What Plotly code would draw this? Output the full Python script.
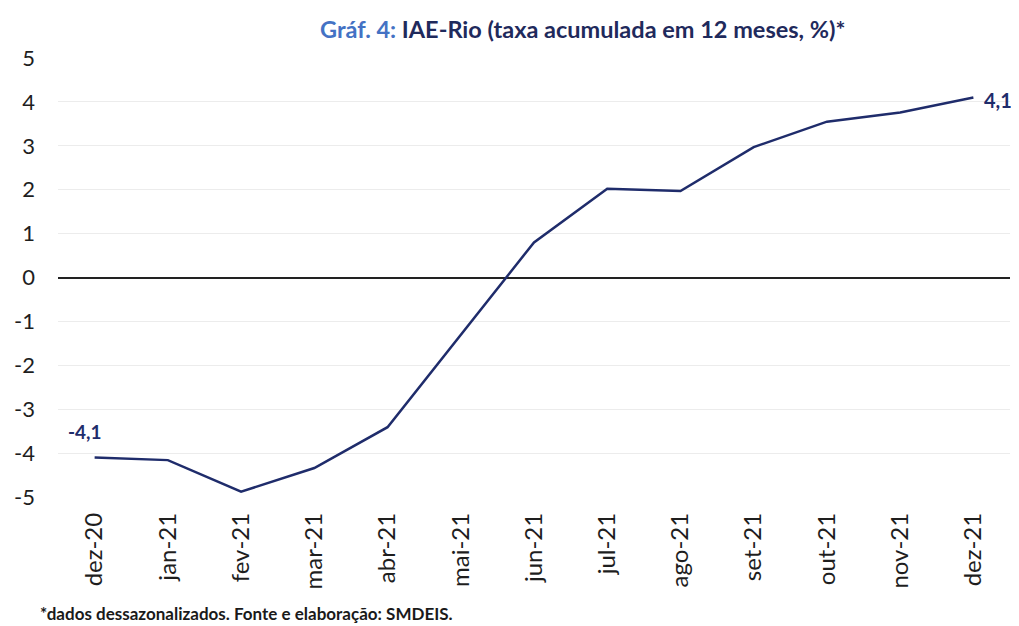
import plotly.graph_objects as go

categories = ["dez-20", "jan-21", "fev-21", "mar-21", "abr-21", "mai-21", "jun-21",
              "jul-21", "ago-21", "set-21", "out-21", "nov-21", "dez-21"]
values = [-4.1, -4.16, -4.88, -4.34, -3.41, -1.3, 0.8, 2.02, 1.97, 2.97, 3.55, 3.76, 4.1]
y_ticks = [-5, -4, -3, -2, -1, 0, 1, 2, 3, 4, 5]
y_labels = ["-5", "-4", "-3", "-2", "-1", "0", "1", "2", "3", "4", "5"]

navy = "#1F2C6B"
font = "Lato, 'Open Sans', sans-serif"

fig = go.Figure()
fig.add_trace(go.Scatter(x=categories, y=values, mode="lines",
                         line=dict(color=navy, width=2.5), showlegend=False,
                         hoverinfo="x+y"))

fig.add_annotation(x=categories[0], y=values[0], text="<b>-4,1</b>", showarrow=False,
                   xanchor="center", yanchor="bottom", yshift=12, xshift=-10,
                   font=dict(family=font, size=19, color=navy))
fig.add_annotation(x=categories[-1], y=values[-1], text="<b>4,1</b>", showarrow=False,
                   xanchor="left", yanchor="middle", xshift=9, yshift=-2,
                   font=dict(family=font, size=20, color=navy))

fig.add_annotation(xref="paper", yref="paper", x=0.5, y=1.0, yshift=29, xshift=49,
                   text="<b><span style='color:#4472C4'>Gráf. 4:</span> IAE-Rio (taxa acumulada em 12 meses, %)*</b>",
                   showarrow=False, xanchor="center", yanchor="middle",
                   font=dict(family=font, size=23.5, color="#1F2A5C"))
fig.add_annotation(xref="paper", yref="paper", x=0, xshift=-20, y=0, yshift=-116,
                   text="<b>*dados dessazonalizados. Fonte e elaboração: SMDEIS.</b>",
                   showarrow=False, xanchor="left", yanchor="middle",
                   font=dict(family=font, size=17, color="#1a1a1a"))

fig.update_layout(
    width=1011, height=618,
    margin=dict(l=50, r=9, t=50, b=129, autoexpand=False),
    paper_bgcolor="white", plot_bgcolor="white",
    font=dict(family=font),
)
fig.update_xaxes(type="category", range=[-0.5, 12.5], tickangle=-90,
                 tickfont=dict(family=font, size=24, color="#1e1e1e"),
                 showgrid=False, showline=False, ticks="", ticklen=0,
                 ticklabelstandoff=10)
fig.update_yaxes(range=[-5, 5], tickvals=y_ticks, ticktext=y_labels,
                 tickfont=dict(family=font, size=22, color="#1e1e1e"),
                 showgrid=True, gridcolor="#ECECEC", gridwidth=1,
                 zeroline=True, zerolinecolor="#222222", zerolinewidth=1.5,
                 showline=False, ticks="", ticklabelstandoff=22)

fig.write_html("out.html")
